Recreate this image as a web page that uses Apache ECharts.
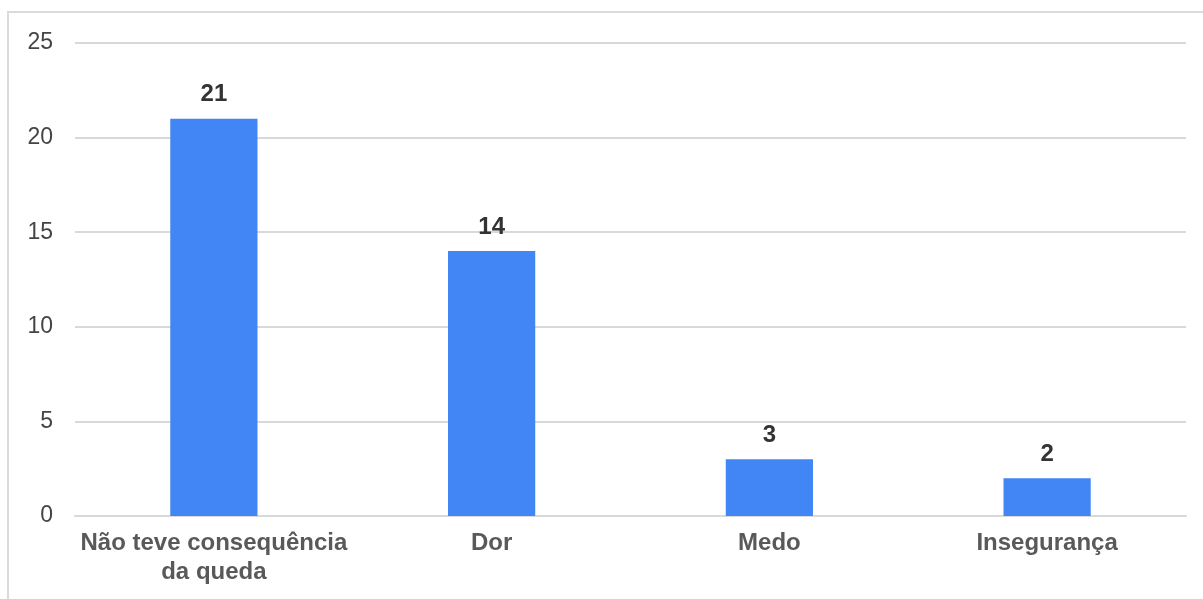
<!DOCTYPE html>
<html>
<head>
<meta charset="utf-8">
<script src="https://cdn.jsdelivr.net/npm/echarts@6/dist/echarts.min.js"></script>
<style>
html,body{margin:0;padding:0;background:#fff;}
#frame{position:absolute;left:7px;top:11px;width:1196px;height:588px;border-left:2px solid #dadada;border-top:2px solid #dadada;}
#chart{position:absolute;left:0;top:0;width:1203px;height:599px;}
</style>
</head>
<body>
<div id="frame"></div>
<div id="chart"></div>
<script>
const categories = ["Não teve consequência\nda queda", "Dor", "Medo", "Insegurança"];
const values = [21, 14, 3, 2];
const yTicks = { min: 0, max: 25, interval: 5 };

const chart = echarts.init(document.getElementById('chart'), null, { renderer: 'canvas' });
chart.setOption({
  animation: false,
  backgroundColor: 'transparent',
  grid: { left: 75, right: 17, top: 43, bottom: 83, containLabel: false },
  xAxis: {
    type: 'category',
    data: categories,
    axisLine: { show: true, lineStyle: { color: '#d9d9d9', width: 2 } },
    axisTick: { show: false },
    axisLabel: {
      interval: 0,
      margin: 13,
      color: '#595959',
      fontFamily: 'Liberation Sans, Arial, sans-serif',
      fontSize: 24,
      fontWeight: 'bold',
      lineHeight: 29
    }
  },
  yAxis: {
    type: 'value',
    min: yTicks.min,
    max: yTicks.max,
    interval: yTicks.interval,
    axisLine: { show: false },
    axisTick: { show: false },
    splitLine: { lineStyle: { color: '#d9d9d9', width: 2 } },
    axisLabel: {
      margin: 22,
      color: '#444',
      fontFamily: 'Liberation Sans, Arial, sans-serif',
      fontSize: 23
    }
  },
  series: [{
    type: 'bar',
    data: values,
    barWidth: '31.4%',
    itemStyle: { color: '#4285f4' },
    label: {
      show: true,
      position: 'top',
      distance: 12,
      color: '#333',
      fontFamily: 'Liberation Sans, Arial, sans-serif',
      fontSize: 24,
      fontWeight: 'bold'
    }
  }]
});
</script>
</body>
</html>
